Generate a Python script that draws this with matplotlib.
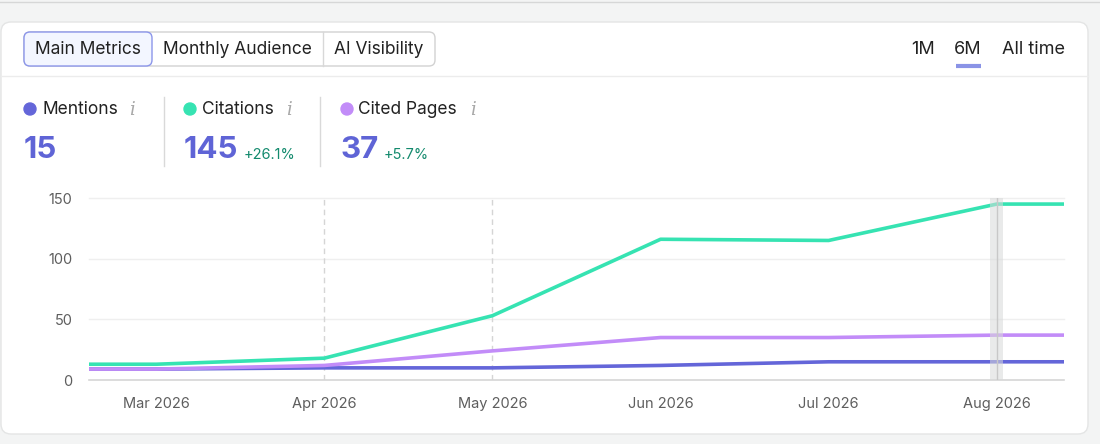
import matplotlib
matplotlib.use("Agg")
import matplotlib.pyplot as plt
from matplotlib.patches import FancyBboxPatch, Circle

plt.rcParams["font.family"] = ["Inter", "DejaVu Sans"]

# chart data (x in months from Mar 2026)
month_labels = ["Mar 2026", "Apr 2026", "May 2026", "Jun 2026", "Jul 2026", "Aug 2026"]
x_points = [-0.4, 0, 1, 2, 3, 4, 5, 5.4]
mentions = [9, 9, 10, 10, 12, 15, 15, 15]
citations = [13, 13, 18, 53, 116, 115, 145, 145]
cited_pages = [9, 9, 12, 24, 35, 35, 37, 37]
y_ticks = [0, 50, 100, 150]

tabs = ["Main Metrics", "Monthly Audience", "AI Visibility"]
ranges = ["1M", "6M", "All time"]
metric_names = ["Mentions", "Citations", "Cited Pages"]
metric_totals = ["15", "145", "37"]
metric_changes = ["", "+26.1%", "+5.7%"]

C_MENT = "#6466d9"
C_CIT = "#36e3b2"
C_PAGE = "#c28cf8"
C_BIG = "#5f64d6"
C_UP = "#138a6d"

W, H = 1100, 444
fig = plt.figure(figsize=(W / 100, H / 100), dpi=100)
fig.patch.set_facecolor("#f3f4f4")

# background layer in pixel coordinates
bg = fig.add_axes([0, 0, 1, 1])
bg.set_xlim(0, W)
bg.set_ylim(H, 0)
bg.axis("off")

bg.plot([0, W], [2, 2], color="#d6d7d7", lw=1)
bg.add_patch(FancyBboxPatch((1, 22), 1087, 412, boxstyle="round,pad=0,rounding_size=10",
                            fc="white", ec="#e4e5e5", lw=1))
bg.plot([1, 1088], [76, 76], color="#ececec", lw=1)

# tab group
bg.add_patch(FancyBboxPatch((24, 32), 411, 34, boxstyle="round,pad=0,rounding_size=6",
                            fc="white", ec="#d2d2d2", lw=1))
bg.add_patch(FancyBboxPatch((24, 32), 128, 34, boxstyle="round,pad=0,rounding_size=6",
                            fc="#f3f6ff", ec="#8c96ea", lw=1))
bg.plot([323, 323], [32, 66], color="#d8d8d8", lw=1)
tab_centers = [88, 237, 379]
for t, cx in zip(tabs, tab_centers):
    bg.text(cx, 49, t, ha="center", va="center", fontsize=12.5, color="#222222")

range_centers = [923, 968, 1033]
for r, cx in zip(ranges, range_centers):
    bg.text(cx, 49, r, ha="center", va="center", fontsize=13, color="#222222")
bg.plot([956, 981], [66, 66], color="#8a93e6", lw=3, solid_capstyle="butt")

# metric summary
dot_x = [30, 190, 347]
label_x = [42, 202, 358]
info_x = [132, 289, 473]
num_x = [24, 184, 341]
chg_x = [None, 244, 384]
colors = [C_MENT, C_CIT, C_PAGE]
for i in range(3):
    bg.add_patch(Circle((dot_x[i], 109), 6, color=colors[i]))
    bg.text(label_x[i], 109, metric_names[i], ha="left", va="center", fontsize=12.5, color="#222222")
    bg.text(info_x[i], 110, "i", ha="center", va="center", fontsize=13, color="#a8a8a8",
            fontstyle="italic", family="DejaVu Serif")
    bg.text(num_x[i], 150, metric_totals[i], ha="left", va="center", fontsize=22.5,
            fontweight="bold", color=C_BIG)
    if metric_changes[i]:
        bg.text(chg_x[i], 155, metric_changes[i], ha="left", va="center", fontsize=10.5, color=C_UP)
for dx in [164, 320]:
    bg.plot([dx, dx], [97, 166], color="#d9d9d9", lw=1)

# chart
ax = fig.add_axes([89 / W, (H - 380) / H, (1064 - 89) / W, (380 - 198) / H])
ax.set_facecolor("none")
ax.set_xlim(x_points[0], x_points[-1])
ax.set_ylim(0, 150)
for s in ax.spines.values():
    s.set_visible(False)
ax.set_yticks(y_ticks)
ax.set_xticks(range(len(month_labels)))
ax.set_xticklabels(month_labels)
ax.tick_params(length=0, labelsize=10.5, labelcolor="#5e5e5e")
ax.tick_params(axis="x", pad=12)
ax.tick_params(axis="y", pad=12)
for v in y_ticks[1:]:
    ax.axhline(v, color="#efefef", lw=1, zorder=0, clip_on=False)
ax.axhline(0, color="#d6d6d6", lw=1.2, zorder=1, clip_on=False)
for m in [1, 2]:
    ax.axvline(m, color="#d5d5d5", lw=1, ls=(0, (4, 3)), zorder=1)

ax.plot(x_points, mentions, color=C_MENT, lw=2.6, zorder=3, solid_joinstyle="round")
ax.plot(x_points, cited_pages, color=C_PAGE, lw=2.6, zorder=3, solid_joinstyle="round")
ax.plot(x_points, citations, color=C_CIT, lw=2.6, zorder=4, solid_joinstyle="round")

ax.axvspan(4.96, 5.04, color="#d8dada", alpha=0.55, lw=0, zorder=5)
ax.axvline(5, color="#c8c8c8", lw=1, zorder=6)

fig.savefig("out.png", dpi=100, facecolor=fig.get_facecolor())
